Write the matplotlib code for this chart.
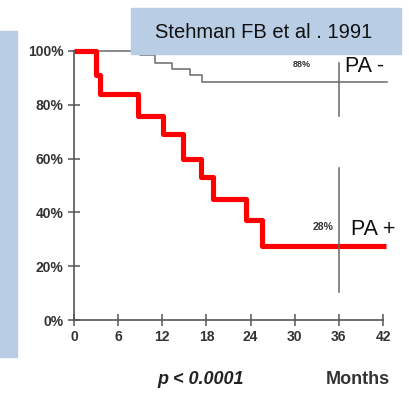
import matplotlib.pyplot as plt
from matplotlib.patches import Rectangle

# Kaplan-Meier style steps (months, % surviving)
pa_pos_months = [0, 3.0, 3.5, 8.7, 12.1, 14.8, 17.3, 18.9, 23.4, 25.5, 42.4]
pa_pos_surv = [100, 91, 84, 76, 69, 60, 53, 45, 37, 27.5, 27.5]
pa_neg_months = [0, 9.0, 11.0, 13.3, 15.8, 17.4, 42.5]
pa_neg_surv = [100, 98.5, 95.5, 93.3, 91, 88.5, 88.5]

# marker line at 36 months, drawn in two pieces like the original
marker_month = 36
marker_segments = [(76, 95.5), (10.5, 56.5)]

x_ticks = [0, 6, 12, 18, 24, 30, 36, 42]
y_ticks = [0, 20, 40, 60, 80, 100]
y_labels = ["0%", "20%", "40%", "60%", "80%", "100%"]

W, H = 409, 397
fig = plt.figure(figsize=(W / 100, H / 100), dpi=100)
fig.patch.set_facecolor("white")

# blue decorations (left strip and citation box)
blue = "#b9cde5"
fig.patches.append(Rectangle((0, 1 - 357 / H), 17 / W, (357 - 31) / H,
                             transform=fig.transFigure, color=blue, zorder=0))
fig.patches.append(Rectangle((131 / W, 1 - 54 / H), 270 / W, 46 / H,
                             transform=fig.transFigure, color=blue, zorder=5))
fig.text(264 / W, 1 - 32 / H, "Stehman FB et al . 1991", ha="center", va="center",
         fontsize=14.5, family="Liberation Sans", color="#111111", zorder=6)

ax = fig.add_axes([74 / W, 1 - 320 / H, (383 - 74) / W, (320 - 51) / H])
ax.set_xlim(0, 42)
ax.set_ylim(0, 100)
for s in ["top", "right"]:
    ax.spines[s].set_visible(False)
for s in ["left", "bottom"]:
    ax.spines[s].set_color("#555555")
    ax.spines[s].set_linewidth(1.2)

ax.plot(pa_neg_months, pa_neg_surv, drawstyle="steps-post", color="#6a6a6a",
        lw=1.1, clip_on=False)
ax.plot(pa_pos_months, pa_pos_surv, drawstyle="steps-post", color="#ff0000",
        lw=3.7, clip_on=False, solid_capstyle="butt")
for lo, hi in marker_segments:
    ax.plot([marker_month, marker_month], [lo, hi], color="#666666", lw=1.1)

ax.set_xticks(x_ticks)
ax.set_yticks(y_ticks)
ax.set_yticklabels(y_labels)
ax.tick_params(direction="inout", length=9, width=1.1, color="#555555",
               labelsize=10, labelcolor="#333333")
ax.tick_params(axis="x", pad=3)
ax.tick_params(axis="y", pad=3)
for lab in ax.get_xticklabels() + ax.get_yticklabels():
    lab.set_fontweight("bold")
    lab.set_family("Liberation Sans")

ax.text(30.9, 94.8, "88%", fontsize=6.5, fontweight="bold", color="#333333",
        ha="center", va="center", family="Liberation Sans")
ax.text(36.9, 94.4, "PA -", fontsize=15.5, color="#111111", ha="left", va="center",
        family="Liberation Sans")
ax.text(33.9, 34.5, "28%", fontsize=7.5, fontweight="bold", color="#333333",
        ha="center", va="center", family="Liberation Sans")
ax.text(37.7, 33.5, "PA +", fontsize=15.5, color="#111111", ha="left", va="center",
        family="Liberation Sans")

fig.text(201 / W, 1 - 379 / H, "p < 0.0001", ha="center", va="center", fontsize=13,
         fontweight="bold", fontstyle="italic", family="Liberation Sans", color="#222222")
fig.text(358 / W, 1 - 379 / H, "Months", ha="center", va="center", fontsize=13,
         fontweight="bold", family="Liberation Sans", color="#333333")

fig.savefig("out.png", dpi=100)
